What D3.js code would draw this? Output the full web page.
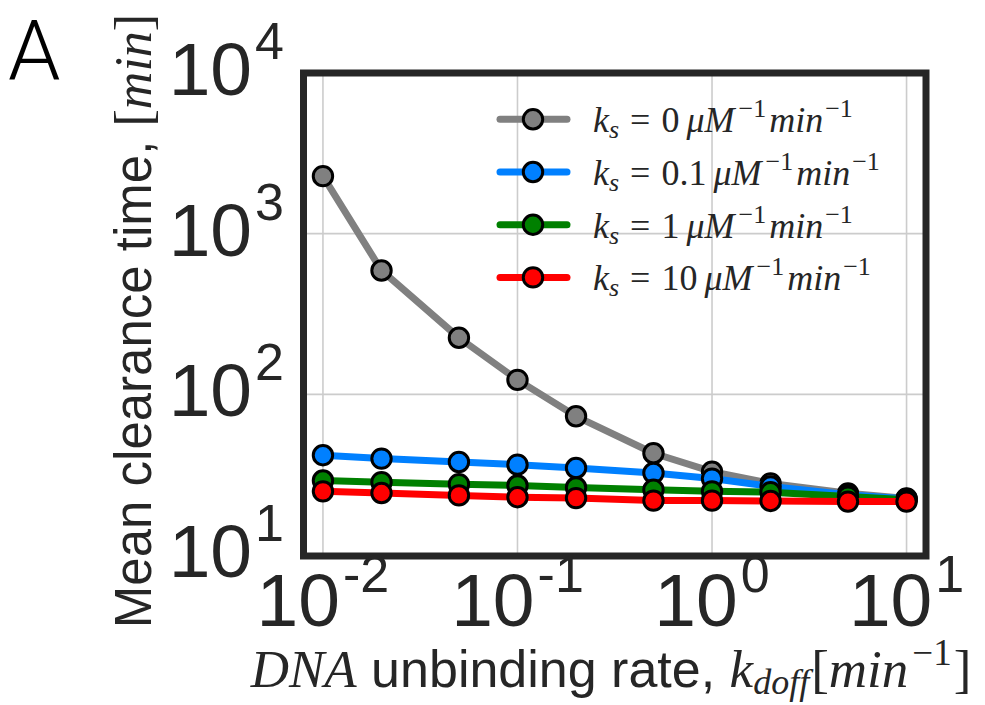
<!DOCTYPE html>
<html>
<head>
<meta charset="utf-8">
<script src="https://cdn.jsdelivr.net/npm/d3@7.9.0/dist/d3.min.js"></script>
<style>
  body { margin: 0; background: #fff; }
  svg { display: block; }
</style>
</head>
<body>
<div id="chart"></div>
<script>
// unbinding rates (x) and the four ks series
const koff = [0.01, 0.02, 0.05, 0.1, 0.2, 0.5, 1, 2, 5, 10];
const ks0 = [2280, 590, 225, 123, 73, 43, 33, 27.9, 24.2, 22.5];
const ks01 = [41.8, 39.8, 37.9, 36.5, 34.8, 32.4, 29.9, 26.7, 23.7, 22.3];
const ks1 = [29.1, 28.4, 27.6, 27.1, 26.3, 25.5, 24.9, 24.6, 23.1, 22.1];
const ks10 = [24.9, 24.3, 23.5, 22.9, 22.6, 21.8, 21.8, 21.7, 21.5, 21.5];
const seriesNames = ["0", "0.1", "1", "10"];
const colors = ["#808080", "#0080ff", "#008000", "#ff0000"];
const xTicks = [0.01, 0.1, 1, 10];
const xTickExp = ["-2", "-1", "0", "1"];
const yTicks = [10, 100, 1000, 10000];
const yTickExp = ["1", "2", "3", "4"];

const W = 985, H = 705;
const ink = "#262626";
const serif = "'Liberation Serif', 'DejaVu Serif', serif";
const sans = "'Liberation Sans', Arial, sans-serif";

const svg = d3.select("#chart").append("svg")
    .attr("width", W)
    .attr("height", H);

const x = d3.scaleLog().domain([Math.pow(10, -2.1), Math.pow(10, 1.1)]).range([303.5, 926]);
const y = d3.scaleLog().domain([10, 1e4]).range([555, 73]);

// grid
svg.append("g").selectAll("line").data(xTicks).join("line")
    .attr("x1", d => x(d)).attr("x2", d => x(d))
    .attr("y1", 73).attr("y2", 556)
    .attr("stroke", "#cccccc").attr("stroke-width", 1.6);
svg.append("g").selectAll("line").data(yTicks).join("line")
    .attr("x1", 303.5).attr("x2", 926)
    .attr("y1", d => y(d)).attr("y2", d => y(d))
    .attr("stroke", "#cccccc").attr("stroke-width", 1.6);

// writes a run of text pieces; each piece may be italic serif, upright serif or sans, raised or lowered
function mathText(g, pieces) {
  const t = g.append("text").attr("fill", ink);
  let prev = 0;
  pieces.forEach(p => {
    const shift = p.shift || 0;
    t.append("tspan")
      .attr("dy", shift - prev)
      .attr("font-family", p.f === "sans" ? sans : serif)
      .attr("font-style", p.f === "it" ? "italic" : "normal")
      .attr("font-size", p.size)
      .attr("dx", p.dx || 0)
      .text(p.t);
    prev = shift;
  });
  return t;
}

// series
const series = [ks0, ks01, ks1, ks10];
const line = d3.line().x(d => x(d[0])).y(d => y(d[1]));
series.forEach((vals, i) => {
  const pts = koff.map((k, j) => [k, vals[j]]);
  const g = svg.append("g");
  g.append("path").datum(pts)
    .attr("d", line)
    .attr("fill", "none")
    .attr("stroke", colors[i])
    .attr("stroke-width", 7)
    .attr("stroke-linecap", "round")
    .attr("stroke-linejoin", "round");
  g.selectAll("circle").data(pts).join("circle")
    .attr("cx", d => x(d[0])).attr("cy", d => y(d[1]))
    .attr("r", 9.7)
    .attr("fill", colors[i])
    .attr("stroke", "#000").attr("stroke-width", 3);
});

// frame
svg.append("rect")
    .attr("x", 303.5).attr("y", 73)
    .attr("width", 926 - 303.5).attr("height", 556 - 73)
    .attr("fill", "none").attr("stroke", ink).attr("stroke-width", 7);

// y tick labels
yTicks.forEach((v, i) => {
  const g = svg.append("g").attr("transform", `translate(284,${y(v) + 22})`);
  mathText(g, [
    {t: "10", f: "sans", size: 75},
    {t: yTickExp[i], f: "sans", size: 52, shift: -36, dx: 3}
  ]).attr("text-anchor", "end");
});

// x tick labels
xTicks.forEach((v, i) => {
  const g = svg.append("g").attr("transform", `translate(${x(v)},626)`);
  mathText(g, [
    {t: "10", f: "sans", size: 75},
    {t: xTickExp[i], f: "sans", size: 52, shift: -34, dx: 3}
  ]).attr("text-anchor", "middle");
});

// x axis title
{
  const g = svg.append("g").attr("transform", "translate(611,687)");
  mathText(g, [
    {t: "DNA", f: "it", size: 53},
    {t: " unbinding rate, ", f: "sans", size: 52},
    {t: "k", f: "it", size: 53},
    {t: "doff", f: "it", size: 36, shift: 7},
    {t: "[", f: "rm", size: 53, shift: 0, dx: 2},
    {t: "min", f: "it", size: 53},
    {t: "\u22121", f: "rm", size: 37, shift: -22, dx: 4},
    {t: "]", f: "rm", size: 53, shift: 0, dx: 2}
  ]).attr("text-anchor", "middle");
}

// y axis title
{
  const g = svg.append("g").attr("transform", "translate(151,321) rotate(-90)");
  mathText(g, [
    {t: "Mean clearance time, ", f: "sans", size: 51},
    {t: "[", f: "rm", size: 52},
    {t: "min", f: "it", size: 52},
    {t: "]", f: "rm", size: 52}
  ]).attr("text-anchor", "middle");
}

// panel letter
svg.append("text")
    .attr("x", 8).attr("y", 80)
    .attr("font-family", "Roboto, 'Liberation Sans', sans-serif")
    .attr("font-weight", 300)
    .attr("font-size", 84)
    .attr("fill", "#000")
    .text("A");

// legend
const legend = svg.append("g");
seriesNames.forEach((name, i) => {
  const ry = 119.3 + i * 52.7;
  const g = legend.append("g").attr("transform", `translate(0,${ry})`);
  g.append("line")
    .attr("x1", 500).attr("x2", 567)
    .attr("stroke", colors[i]).attr("stroke-width", 7).attr("stroke-linecap", "round");
  g.append("circle")
    .attr("cx", 533).attr("r", 9.7)
    .attr("fill", colors[i]).attr("stroke", "#000").attr("stroke-width", 3);
  const tg = g.append("g").attr("transform", "translate(593,13)");
  mathText(tg, [
    {t: "k", f: "it", size: 36},
    {t: "s", f: "it", size: 26, shift: 6},
    {t: "=", f: "rm", size: 36, shift: 0, dx: 11},
    {t: name, f: "rm", size: 36, dx: 11},
    {t: "\u03bcM", f: "it", size: 36, dx: 7},
    {t: "\u22121", f: "rm", size: 26, shift: -15, dx: 4},
    {t: "min", f: "it", size: 36, shift: 0, dx: 3},
    {t: "\u22121", f: "rm", size: 26, shift: -15, dx: 2}
  ]);
});
</script>
</body>
</html>
